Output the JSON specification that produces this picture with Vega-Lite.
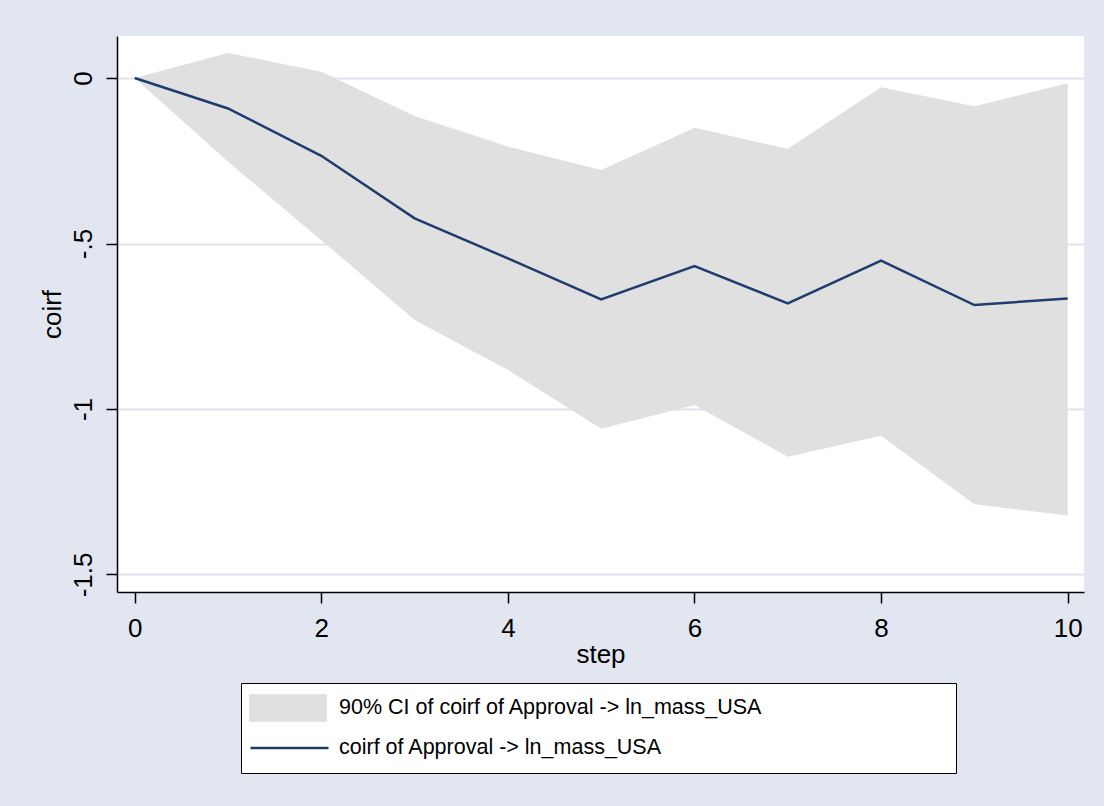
{
  "$schema": "https://vega.github.io/schema/vega-lite/v6.json",
  "width": 967,
  "height": 556,
  "autosize": {"type": "none"},
  "padding": {"left": 117, "top": 36, "right": 20, "bottom": 214},
  "background": "#E1E6F0",
  "config": {
    "view": {"fill": "white", "stroke": null},
    "font": "Liberation Sans",
    "axis": {
      "domainColor": "black",
      "domainWidth": 1.5,
      "tickColor": "black",
      "tickWidth": 1.5,
      "tickSize": 11,
      "labelFont": "Liberation Sans",
      "labelFontSize": 26,
      "labelColor": "black",
      "titleFont": "Liberation Sans",
      "titleFontSize": 26,
      "titleFontWeight": "normal",
      "titleColor": "black",
      "labelOverlap": false,
      "labelFlush": false
    },
    "legend": {
      "orient": "none",
      "direction": "vertical",
      "padding": 6,
      "cornerRadius": 0,
      "symbolSize": 6084,
      "symbolOffset": 2,
      "clipHeight": 38,
      "rowPadding": 2,
      "labelFont": "Liberation Sans",
      "labelFontSize": 21.5,
      "labelColor": "black",
      "labelLimit": 1000,
      "labelOffset": 12
    }
  },
  "data": {
    "values": [
      {"step": 0, "hi": 0.0, "irf": 0.0, "lo": 0.0},
      {"step": 1, "hi": 0.076, "irf": -0.092, "lo": -0.253},
      {"step": 2, "hi": 0.019, "irf": -0.235, "lo": -0.49},
      {"step": 3, "hi": -0.115, "irf": -0.424, "lo": -0.731},
      {"step": 4, "hi": -0.207, "irf": -0.545, "lo": -0.882},
      {"step": 5, "hi": -0.278, "irf": -0.669, "lo": -1.06},
      {"step": 6, "hi": -0.15, "irf": -0.568, "lo": -0.988},
      {"step": 7, "hi": -0.214, "irf": -0.681, "lo": -1.144},
      {"step": 8, "hi": -0.028, "irf": -0.552, "lo": -1.081},
      {"step": 9, "hi": -0.085, "irf": -0.686, "lo": -1.288},
      {"step": 10, "hi": -0.016, "irf": -0.666, "lo": -1.322}
    ]
  },
  "layer": [
    {
      "mark": {"type": "area", "opacity": 1},
      "encoding": {
        "x": {
          "field": "step",
          "type": "quantitative",
          "scale": {"domain": [-0.19, 10.175], "nice": false, "zero": false},
          "axis": {
            "title": "step",
            "values": [0, 2, 4, 6, 8, 10],
            "format": "d",
            "grid": false,
            "labelPadding": 12,
            "titlePadding": 0
          }
        },
        "y": {
          "field": "lo",
          "type": "quantitative",
          "scale": {"domain": [-1.553, 0.127], "nice": false, "zero": false},
          "axis": {
            "title": "coirf",
            "values": [0, -0.5, -1, -1.5],
            "labelExpr": "datum.value == 0 ? '0' : datum.value == -0.5 ? '-.5' : datum.value == -1 ? '-1' : '-1.5'",
            "labelAngle": 270,
            "labelAlign": "center",
            "labelBaseline": "bottom",
            "labelPadding": 10,
            "titlePadding": 5,
            "grid": true,
            "gridColor": "#DFE4EE",
            "gridWidth": 2
          }
        },
        "y2": {"field": "hi"},
        "fill": {
          "datum": "90% CI of coirf of Approval -> ln_mass_USA",
          "type": "nominal",
          "scale": {
            "domain": ["90% CI of coirf of Approval -> ln_mass_USA", "coirf of Approval -> ln_mass_USA"],
            "range": ["#E0E0E0", "transparent"]
          },
          "legend": {
            "legendX": 124,
            "legendY": 647,
            "zindex": 0,
            "title": "\u00a0",
            "titleOrient": "right",
            "titleFontSize": 10,
            "titlePadding": 187,
            "strokeColor": "black",
            "fillColor": "white",
            "symbolType": "M-1,-0.35L1,-0.35L1,0.35L-1,0.35Z",
            "symbolStrokeWidth": 0
          }
        }
      }
    },
    {
      "mark": {"type": "line", "strokeWidth": 2.5},
      "encoding": {
        "x": {"field": "step", "type": "quantitative"},
        "y": {"field": "irf", "type": "quantitative", "title": "coirf"},
        "stroke": {
          "datum": "coirf of Approval -> ln_mass_USA",
          "type": "nominal",
          "scale": {"domain": ["coirf of Approval -> ln_mass_USA"], "range": ["#1E3D6E"]},
          "legend": {
            "legendX": 124,
            "legendY": 687,
            "zindex": 1,
            "title": null,
            "symbolType": "stroke",
            "symbolStrokeWidth": 2.5,
            "labelExpr": "''"
          }
        }
      }
    }
  ]
}
